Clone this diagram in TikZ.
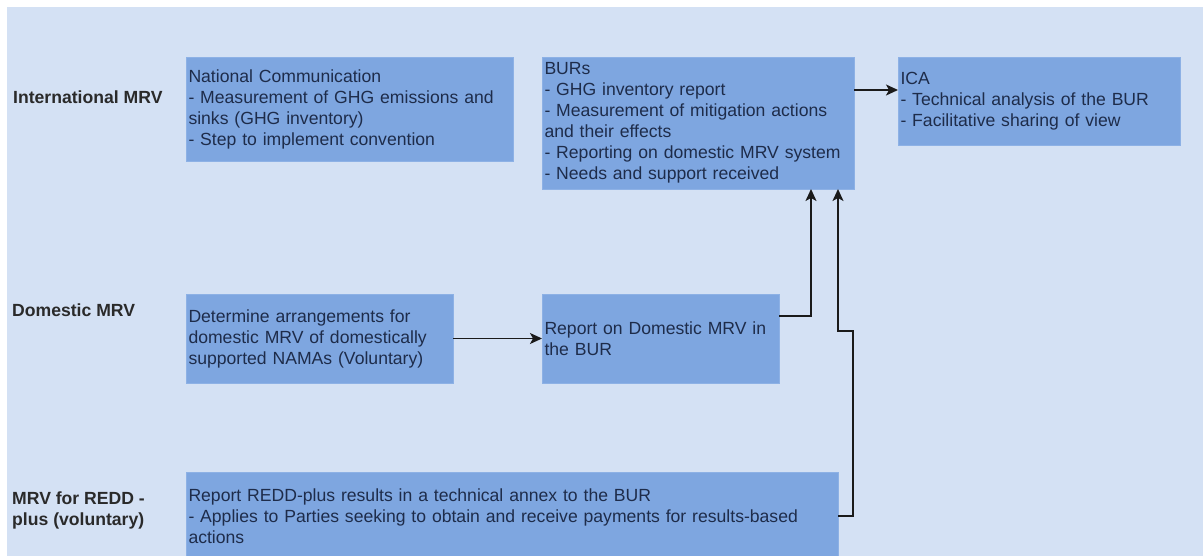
\documentclass[tikz,border=0pt]{standalone}
\usepackage{fontspec}
\setmainfont{Liberation Sans}
\usetikzlibrary{arrows.meta}

\definecolor{pagebg}{HTML}{D4E1F4}
\definecolor{boxblue}{HTML}{7EA6E0}
\definecolor{boxedge}{HTML}{8DB1E5}
\definecolor{boxtext}{HTML}{1E2C4A}
\definecolor{labtext}{HTML}{2A2A2A}
\definecolor{linkcol}{HTML}{1A1A1A}

\newcommand\diagfont{\fontsize{17.6}{21}\selectfont}

\tikzset{
  box/.style={fill=boxblue, draw=boxedge, line width=0.6pt,
    inner xsep=2.5pt, inner ysep=0pt, outer sep=0pt,
    align=left, text=boxtext, font=\diagfont, anchor=north west},
  rowlabel/.style={text=labtext, font=\diagfont\bfseries, align=left,
    anchor=west, inner sep=0pt},
  link/.style={draw=linkcol, line width=1.5pt,
    -{Stealth[length=12pt,width=11pt,inset=3pt]}},
}

\begin{document}
\begin{tikzpicture}[x=1pt,y=-1pt]
  \useasboundingbox (0,0) rectangle (1203,556);
  \fill[pagebg] (7,7) rectangle (1203,556);

  % row captions
  \node[rowlabel] (lint) at (13,97) {International MRV};
  \node[rowlabel] (ldom) at (12,310) {Domestic MRV};
  \node[rowlabel] (lredd) at (12,510) {MRV for REDD -\\plus (voluntary)};

  % international row
  \node[box, text width=322pt, minimum height=104pt] (nc) at (186,57)
    {National Communication\\- Measurement of GHG emissions and\\sinks (GHG inventory)\\- Step to implement convention};
  \node[box, text width=307pt, minimum height=132pt] (burs) at (542,57)
    {BURs\\- GHG inventory report\\- Measurement of mitigation actions\\and their effects\\- Reporting on domestic MRV system\\- Needs and support received};
  \node[box, text width=277pt, minimum height=88pt] (ica) at (898,57)
    {ICA\\- Technical analysis of the BUR\\- Facilitative sharing of view};

  % domestic row
  \node[box, text width=262pt, minimum height=89pt] (det) at (186,294)
    {Determine arrangements for\\domestic MRV of domestically\\supported NAMAs (Voluntary)};
  \node[box, text width=232pt, minimum height=89pt] (rep) at (542,294)
    {Report on Domestic MRV in\\the BUR};

  % REDD-plus row
  \node[box, text width=647pt, minimum height=88pt] (redd) at (186,472)
    {Report REDD-plus results in a technical annex to the BUR\\- Applies to Parties seeking to obtain and receive payments for results-based\\actions};

  % connectors
  \draw[link] (burs.east |- 0,90) -- (ica.west |- 0,90);
  \draw[link] (det.east) -- (rep.west);
  \draw[link] (rep.east |- 0,316) -| (811,0 |- burs.south);
  \draw[link] (redd.east |- 0,516) -- (853,516) -- (853,331) -- (838,331) -- (838,0 |- burs.south);
\end{tikzpicture}
\end{document}
